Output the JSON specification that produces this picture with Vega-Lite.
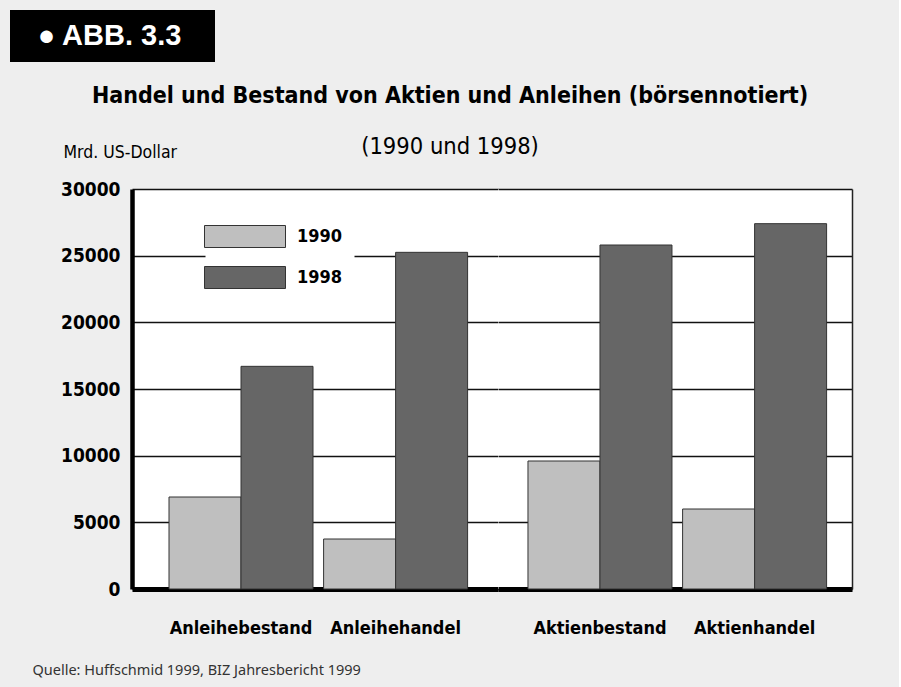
{
  "$schema": "https://vega.github.io/schema/vega-lite/v6.json",
  "background": "#eeeeee",
  "padding": {"left": 10, "top": 10, "right": 47, "bottom": 10},
  "config": {
    "font": "DejaVu Sans Condensed, DejaVu Sans, sans-serif",
    "view": {"stroke": null}
  },
  "spacing": 22,
  "vconcat": [
    {
      "width": 205,
      "height": 52,
      "view": {"fill": "black", "stroke": null},
      "data": {"values": [{"t": "●  ABB. 3.3"}]},
      "mark": {"type": "text", "color": "white", "font": "Liberation Sans, DejaVu Sans, sans-serif", "fontSize": 29, "fontWeight": "bold", "dx": -3},
      "encoding": {"text": {"field": "t", "type": "nominal"}}
    },
    {
      "title": {
        "text": "Handel und Bestand von Aktien und Anleihen (börsennotiert)",
        "subtitle": "(1990 und 1998)",
        "anchor": "middle",
        "dx": 19,
        "offset": -15,
        "font": "DejaVu Sans Condensed, DejaVu Sans, sans-serif",
        "fontSize": 23,
        "fontWeight": "bold",
        "color": "black",
        "subtitleFont": "DejaVu Sans Condensed, DejaVu Sans, sans-serif",
        "subtitleFontSize": 23.5,
        "subtitleFontWeight": "normal",
        "subtitleColor": "black",
        "subtitlePadding": 27
      },
      "data": {
        "values": [
          {"Klasse": "Anleihen", "Kategorie": "Anleihebestand", "Jahr": "1990", "Wert": 6900},
          {"Klasse": "Anleihen", "Kategorie": "Anleihebestand", "Jahr": "1998", "Wert": 16700},
          {"Klasse": "Anleihen", "Kategorie": "Anleihehandel", "Jahr": "1990", "Wert": 3750},
          {"Klasse": "Anleihen", "Kategorie": "Anleihehandel", "Jahr": "1998", "Wert": 25250},
          {"Klasse": "Aktien", "Kategorie": "Aktienbestand", "Jahr": "1990", "Wert": 9600},
          {"Klasse": "Aktien", "Kategorie": "Aktienbestand", "Jahr": "1998", "Wert": 25800},
          {"Klasse": "Aktien", "Kategorie": "Aktienhandel", "Jahr": "1990", "Wert": 6000},
          {"Klasse": "Aktien", "Kategorie": "Aktienhandel", "Jahr": "1998", "Wert": 27400}
        ]
      },
      "resolve": {"legend": {"color": "independent"}},
      "spacing": 0,
      "hconcat": [
        {
          "width": 22,
          "height": 400,
          "data": {"values": []},
          "mark": {"type": "point", "opacity": 0},
          "encoding": {}
        },
        {
          "width": 366,
          "height": 400,
          "view": {"fill": "white", "stroke": null},
          "transform": [{"filter": "datum.Klasse === 'Anleihen'"}],
          "mark": {"type": "bar", "stroke": "#333333", "strokeWidth": 1},
          "encoding": {
            "x": {
              "field": "Kategorie", "type": "nominal",
              "sort": ["Anleihebestand", "Anleihehandel"],
              "scale": {"paddingInner": 0.0686, "paddingOuter": 0.218, "align": 0.549},
              "axis": {
                "labelAngle": 0, "labelFontSize": 18, "labelFontWeight": "bold", "labelColor": "black",
                "labelPadding": 30, "ticks": false, "tickSize": 0, "grid": false,
                "domain": true, "domainColor": "black", "domainWidth": 5,
                "title": "Quelle: Huffschmid 1999, BIZ Jahresbericht 1999",
                "titleFont": "Noto Sans, Open Sans, sans-serif", "titleFontSize": 14.5, "titleFontWeight": "normal",
                "titleColor": "#333333", "titleAnchor": "start", "titleAlign": "left",
                "titleBaseline": "alphabetic", "titleX": -100, "titleY": 85
              }
            },
            "xOffset": {"field": "Jahr", "type": "nominal", "scale": {"paddingInner": 0, "paddingOuter": 0}},
            "y": {
              "field": "Wert", "type": "quantitative",
              "scale": {"domain": [0, 30000], "nice": false},
              "axis": {
                "values": [0, 5000, 10000, 15000, 20000, 25000, 30000], "format": "d",
                "labelFontSize": 19, "labelFontWeight": "bold", "labelColor": "black", "labelPadding": 12,
                "ticks": false, "tickSize": 0, "domain": true, "domainColor": "black", "domainWidth": 4.5,
                "grid": true, "gridColor": "#111111", "gridWidth": 1.3,
                "title": "Mrd. US-Dollar", "titleAngle": 0, "titleAlign": "left", "titleBaseline": "alphabetic",
                "titleX": -69, "titleY": -32, "titleFontSize": 17.5, "titleFontWeight": "normal", "titleColor": "black"
              }
            },
            "color": {
              "field": "Jahr", "type": "nominal",
              "scale": {"domain": ["1990", "1998"], "range": ["#bfbfbf", "#666666"]},
              "legend": {
                "title": null, "orient": "none", "legendX": 73.5, "legendY": 8,
                "fillColor": "white", "padding": 12,
                "symbolType": "M-1.5,-0.4074H1.5V0.4074H-1.5Z", "symbolSize": 2916,
                "symbolStrokeColor": "#333333", "symbolStrokeWidth": 1,
                "labelFontSize": 18, "labelFontWeight": "bold", "labelColor": "black",
                "labelOffset": 24.5, "rowPadding": 0
              }
            }
          }
        },
        {
          "width": 354,
          "height": 400,
          "view": {"fill": "white", "stroke": null},
          "transform": [{"filter": "datum.Klasse === 'Aktien'"}],
          "mark": {"type": "bar", "stroke": "#333333", "strokeWidth": 1},
          "encoding": {
            "x": {
              "field": "Kategorie", "type": "nominal",
              "sort": ["Aktienbestand", "Aktienhandel"],
              "scale": {"paddingInner": 0.0686, "paddingOuter": 0.179, "align": 0.5415},
              "axis": {
                "labelAngle": 0, "labelFontSize": 18, "labelFontWeight": "bold", "labelColor": "black",
                "labelPadding": 30, "ticks": false, "tickSize": 0, "grid": false,
                "domain": true, "domainColor": "black", "domainWidth": 5,
                "title": null
              }
            },
            "xOffset": {"field": "Jahr", "type": "nominal", "scale": {"paddingInner": 0, "paddingOuter": 0}},
            "y": {
              "field": "Wert", "type": "quantitative",
              "scale": {"domain": [0, 30000], "nice": false},
              "axis": {
                "orient": "right",
                "values": [0, 5000, 10000, 15000, 20000, 25000, 30000],
                "labels": false, "ticks": false, "tickSize": 0,
                "domain": true, "domainColor": "#222222", "domainWidth": 1.5,
                "grid": true, "gridColor": "#111111", "gridWidth": 1.3,
                "title": null
              }
            },
            "color": {
              "field": "Jahr", "type": "nominal",
              "scale": {"domain": ["1990", "1998"], "range": ["#bfbfbf", "#666666"]},
              "legend": null
            }
          }
        }
      ]
    }
  ]
}
